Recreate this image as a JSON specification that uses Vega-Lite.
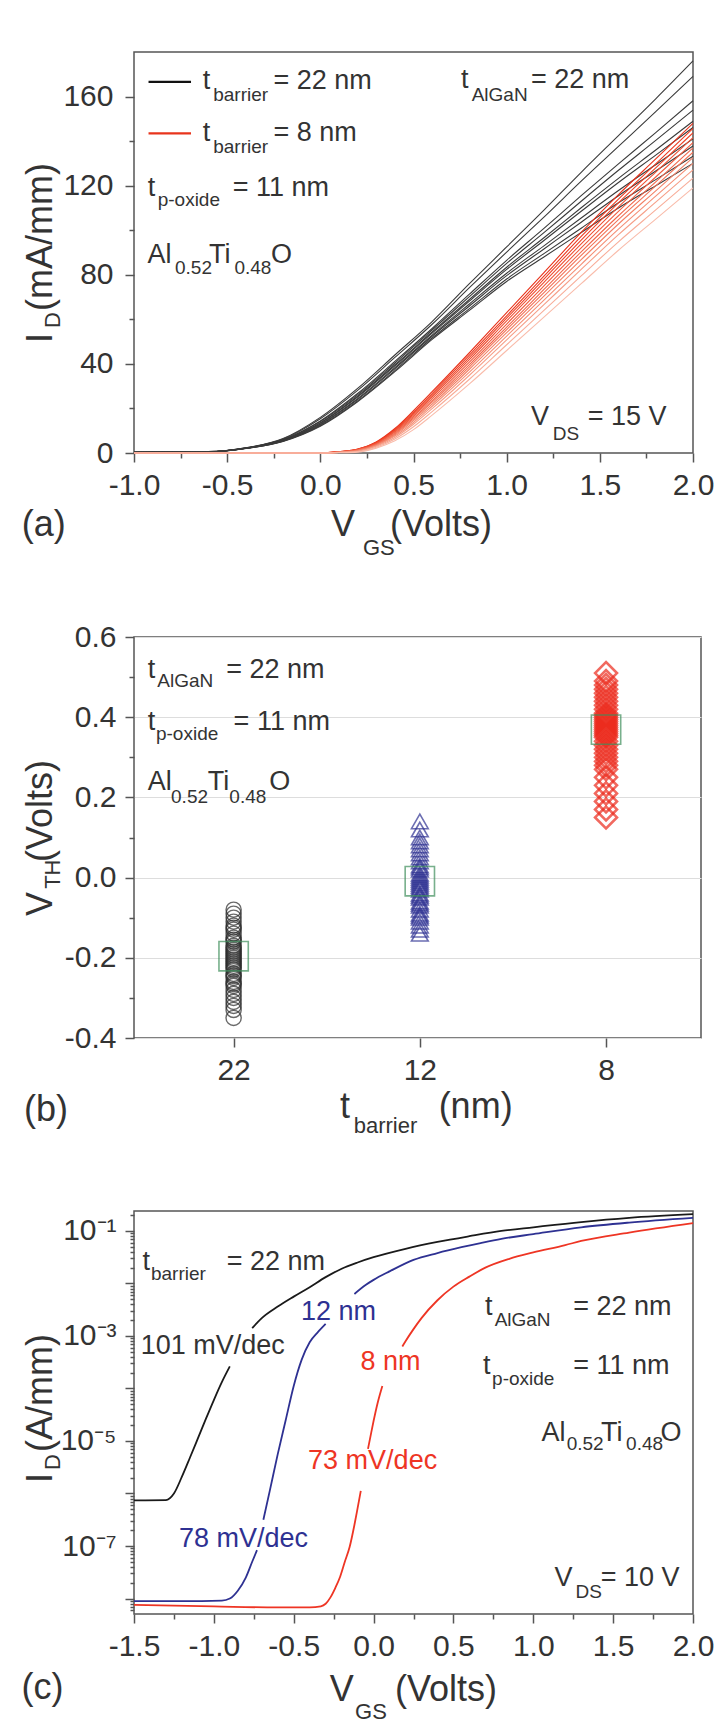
{
  "$schema": "https://vega.github.io/schema/vega-lite/v6.json",
  "padding": {"left": 20, "top": 51, "right": 5, "bottom": 5},
  "spacing": 61,
  "background": "white",
  "resolve": {"scale": {"color": "independent"}},
  "config": {
    "font": "Liberation Sans",
    "view": {"stroke": "#555555", "strokeWidth": 1.5},
    "axis": {"domain": false, "grid": false, "tickColor": "#555555", "tickWidth": 1.5, "labelFont": "Liberation Sans", "labelFontSize": 30, "labelColor": "#333333", "labelOverlap": false, "labelFlush": false},
    "text": {"font": "Liberation Sans", "color": "#333333"}
  },
  "datasets": {
    "blackA": [
      {"curve":"b1","vgs":-1,"id":0.3},{"curve":"b1","vgs":-0.6,"id":0.6},{"curve":"b1","vgs":-0.4,"id":2.3},{"curve":"b1","vgs":-0.2,"id":6.5},{"curve":"b1","vgs":0,"id":16},{"curve":"b1","vgs":0.2,"id":29},{"curve":"b1","vgs":0.4,"id":44},{"curve":"b1","vgs":0.6,"id":59},{"curve":"b1","vgs":0.8,"id":76},{"curve":"b1","vgs":1,"id":92.5},{"curve":"b1","vgs":1.2,"id":109},{"curve":"b1","vgs":1.4,"id":126},{"curve":"b1","vgs":1.6,"id":142.5},{"curve":"b1","vgs":1.8,"id":159},{"curve":"b1","vgs":2,"id":176},
      {"curve":"b2","vgs":-1,"id":0.3},{"curve":"b2","vgs":-0.6,"id":0.6},{"curve":"b2","vgs":-0.4,"id":2.3},{"curve":"b2","vgs":-0.2,"id":6.3},{"curve":"b2","vgs":0,"id":15.4},{"curve":"b2","vgs":0.2,"id":28.1},{"curve":"b2","vgs":0.4,"id":42.9},{"curve":"b2","vgs":0.6,"id":57.8},{"curve":"b2","vgs":0.8,"id":74.2},{"curve":"b2","vgs":1,"id":90.2},{"curve":"b2","vgs":1.2,"id":105.9},{"curve":"b2","vgs":1.4,"id":122},{"curve":"b2","vgs":1.6,"id":137.6},{"curve":"b2","vgs":1.8,"id":153.2},{"curve":"b2","vgs":2,"id":169.1},
      {"curve":"b3","vgs":-1,"id":0.3},{"curve":"b3","vgs":-0.6,"id":0.6},{"curve":"b3","vgs":-0.4,"id":2.2},{"curve":"b3","vgs":-0.2,"id":6},{"curve":"b3","vgs":0,"id":14.4},{"curve":"b3","vgs":0.2,"id":26.7},{"curve":"b3","vgs":0.4,"id":41.1},{"curve":"b3","vgs":0.6,"id":55.9},{"curve":"b3","vgs":0.8,"id":71.3},{"curve":"b3","vgs":1,"id":86.5},{"curve":"b3","vgs":1.2,"id":100.8},{"curve":"b3","vgs":1.4,"id":115.5},{"curve":"b3","vgs":1.6,"id":129.8},{"curve":"b3","vgs":1.8,"id":143.8},{"curve":"b3","vgs":2,"id":158.1},
      {"curve":"b4","vgs":-1,"id":0.3},{"curve":"b4","vgs":-0.6,"id":0.5},{"curve":"b4","vgs":-0.4,"id":2.2},{"curve":"b4","vgs":-0.2,"id":5.9},{"curve":"b4","vgs":0,"id":14.1},{"curve":"b4","vgs":0.2,"id":26.1},{"curve":"b4","vgs":0.4,"id":40.4},{"curve":"b4","vgs":0.6,"id":55.2},{"curve":"b4","vgs":0.8,"id":70.2},{"curve":"b4","vgs":1,"id":85.1},{"curve":"b4","vgs":1.2,"id":98.9},{"curve":"b4","vgs":1.4,"id":113},{"curve":"b4","vgs":1.6,"id":126.9},{"curve":"b4","vgs":1.8,"id":140.3},{"curve":"b4","vgs":2,"id":153.9},
      {"curve":"b5","vgs":-1,"id":0.3},{"curve":"b5","vgs":-0.6,"id":0.5},{"curve":"b5","vgs":-0.4,"id":2.1},{"curve":"b5","vgs":-0.2,"id":5.7},{"curve":"b5","vgs":0,"id":13.6},{"curve":"b5","vgs":0.2,"id":25.5},{"curve":"b5","vgs":0.4,"id":39.6},{"curve":"b5","vgs":0.6,"id":54.3},{"curve":"b5","vgs":0.8,"id":68.9},{"curve":"b5","vgs":1,"id":83.4},{"curve":"b5","vgs":1.2,"id":96.6},{"curve":"b5","vgs":1.4,"id":110.1},{"curve":"b5","vgs":1.6,"id":123.3},{"curve":"b5","vgs":1.8,"id":136},{"curve":"b5","vgs":2,"id":148.9},
      {"curve":"b6","vgs":-1,"id":0.3},{"curve":"b6","vgs":-0.6,"id":0.5},{"curve":"b6","vgs":-0.4,"id":2.1},{"curve":"b6","vgs":-0.2,"id":5.7},{"curve":"b6","vgs":0,"id":13.4},{"curve":"b6","vgs":0.2,"id":25.1},{"curve":"b6","vgs":0.4,"id":39.1},{"curve":"b6","vgs":0.6,"id":53.8},{"curve":"b6","vgs":0.8,"id":68.2},{"curve":"b6","vgs":1,"id":82.4},{"curve":"b6","vgs":1.2,"id":95.4},{"curve":"b6","vgs":1.4,"id":108.5},{"curve":"b6","vgs":1.6,"id":121.4},{"curve":"b6","vgs":1.8,"id":133.7},{"curve":"b6","vgs":2,"id":146.1},
      {"curve":"b7","vgs":-1,"id":0.3},{"curve":"b7","vgs":-0.6,"id":0.5},{"curve":"b7","vgs":-0.4,"id":2.1},{"curve":"b7","vgs":-0.2,"id":5.5},{"curve":"b7","vgs":0,"id":13},{"curve":"b7","vgs":0.2,"id":24.4},{"curve":"b7","vgs":0.4,"id":38.3},{"curve":"b7","vgs":0.6,"id":52.9},{"curve":"b7","vgs":0.8,"id":66.9},{"curve":"b7","vgs":1,"id":80.7},{"curve":"b7","vgs":1.2,"id":93},{"curve":"b7","vgs":1.4,"id":105.5},{"curve":"b7","vgs":1.6,"id":117.8},{"curve":"b7","vgs":1.8,"id":129.4},{"curve":"b7","vgs":2,"id":141},
      {"curve":"b8","vgs":-1,"id":0.3},{"curve":"b8","vgs":-0.6,"id":0.5},{"curve":"b8","vgs":-0.4,"id":2.1},{"curve":"b8","vgs":-0.2,"id":5.4},{"curve":"b8","vgs":0,"id":12.7},{"curve":"b8","vgs":0.2,"id":24},{"curve":"b8","vgs":0.4,"id":37.8},{"curve":"b8","vgs":0.6,"id":52.4},{"curve":"b8","vgs":0.8,"id":66},{"curve":"b8","vgs":1,"id":79.6},{"curve":"b8","vgs":1.2,"id":91.6},{"curve":"b8","vgs":1.4,"id":103.6},{"curve":"b8","vgs":1.6,"id":115.5},{"curve":"b8","vgs":1.8,"id":126.6},{"curve":"b8","vgs":2,"id":137.8},
      {"curve":"b9","vgs":-1,"id":0.3},{"curve":"b9","vgs":-0.6,"id":0.5},{"curve":"b9","vgs":-0.4,"id":2},{"curve":"b9","vgs":-0.2,"id":5.3},{"curve":"b9","vgs":0,"id":12.3},{"curve":"b9","vgs":0.2,"id":23.4},{"curve":"b9","vgs":0.4,"id":37},{"curve":"b9","vgs":0.6,"id":51.6},{"curve":"b9","vgs":0.8,"id":64.8},{"curve":"b9","vgs":1,"id":78.1},{"curve":"b9","vgs":1.2,"id":89.5},{"curve":"b9","vgs":1.4,"id":100.9},{"curve":"b9","vgs":1.6,"id":112.3},{"curve":"b9","vgs":1.8,"id":122.7},{"curve":"b9","vgs":2,"id":133.2},
      {"curve":"b10","vgs":-1,"id":0.3},{"curve":"b10","vgs":-0.6,"id":0.5},{"curve":"b10","vgs":-0.4,"id":2},{"curve":"b10","vgs":-0.2,"id":5.2},{"curve":"b10","vgs":0,"id":12},{"curve":"b10","vgs":0.2,"id":23},{"curve":"b10","vgs":0.4,"id":36.5},{"curve":"b10","vgs":0.6,"id":51},{"curve":"b10","vgs":0.8,"id":64},{"curve":"b10","vgs":1,"id":77},{"curve":"b10","vgs":1.2,"id":88},{"curve":"b10","vgs":1.4,"id":99},{"curve":"b10","vgs":1.6,"id":110},{"curve":"b10","vgs":1.8,"id":120},{"curve":"b10","vgs":2,"id":130}
    ],
    "redA": [
      {"curve":"r1","vgs":-1,"id":0},{"curve":"r1","vgs":0,"id":0},{"curve":"r1","vgs":0.1,"id":0.6},{"curve":"r1","vgs":0.2,"id":1.8},{"curve":"r1","vgs":0.3,"id":5},{"curve":"r1","vgs":0.4,"id":11},{"curve":"r1","vgs":0.5,"id":19},{"curve":"r1","vgs":0.6,"id":27.5},{"curve":"r1","vgs":0.8,"id":45},{"curve":"r1","vgs":1,"id":63},{"curve":"r1","vgs":1.2,"id":81},{"curve":"r1","vgs":1.4,"id":99},{"curve":"r1","vgs":1.6,"id":116},{"curve":"r1","vgs":1.8,"id":132},{"curve":"r1","vgs":2,"id":148},
      {"curve":"r2","vgs":-1,"id":0},{"curve":"r2","vgs":0,"id":0},{"curve":"r2","vgs":0.1,"id":0.6},{"curve":"r2","vgs":0.2,"id":1.7},{"curve":"r2","vgs":0.3,"id":4.8},{"curve":"r2","vgs":0.4,"id":10.6},{"curve":"r2","vgs":0.5,"id":18.3},{"curve":"r2","vgs":0.6,"id":26.7},{"curve":"r2","vgs":0.8,"id":43.9},{"curve":"r2","vgs":1,"id":61.6},{"curve":"r2","vgs":1.2,"id":79.4},{"curve":"r2","vgs":1.4,"id":97.2},{"curve":"r2","vgs":1.6,"id":114},{"curve":"r2","vgs":1.8,"id":129.8},{"curve":"r2","vgs":2,"id":145.7},
      {"curve":"r3","vgs":-1,"id":0},{"curve":"r3","vgs":0,"id":0},{"curve":"r3","vgs":0.1,"id":0.5},{"curve":"r3","vgs":0.2,"id":1.6},{"curve":"r3","vgs":0.3,"id":4.6},{"curve":"r3","vgs":0.4,"id":10.2},{"curve":"r3","vgs":0.5,"id":17.7},{"curve":"r3","vgs":0.6,"id":25.9},{"curve":"r3","vgs":0.8,"id":42.9},{"curve":"r3","vgs":1,"id":60.5},{"curve":"r3","vgs":1.2,"id":78},{"curve":"r3","vgs":1.4,"id":95.6},{"curve":"r3","vgs":1.6,"id":112.3},{"curve":"r3","vgs":1.8,"id":128},{"curve":"r3","vgs":2,"id":143.7},
      {"curve":"r4","vgs":-1,"id":0},{"curve":"r4","vgs":0,"id":0},{"curve":"r4","vgs":0.1,"id":0.5},{"curve":"r4","vgs":0.2,"id":1.5},{"curve":"r4","vgs":0.3,"id":4.4},{"curve":"r4","vgs":0.4,"id":9.8},{"curve":"r4","vgs":0.5,"id":17.1},{"curve":"r4","vgs":0.6,"id":25.2},{"curve":"r4","vgs":0.8,"id":41.9},{"curve":"r4","vgs":1,"id":59.3},{"curve":"r4","vgs":1.2,"id":76.6},{"curve":"r4","vgs":1.4,"id":93.9},{"curve":"r4","vgs":1.6,"id":110.5},{"curve":"r4","vgs":1.8,"id":126.1},{"curve":"r4","vgs":2,"id":141.6},
      {"curve":"r5","vgs":-1,"id":0},{"curve":"r5","vgs":0,"id":0},{"curve":"r5","vgs":0.1,"id":0.5},{"curve":"r5","vgs":0.2,"id":1.4},{"curve":"r5","vgs":0.3,"id":4.2},{"curve":"r5","vgs":0.4,"id":9.4},{"curve":"r5","vgs":0.5,"id":16.5},{"curve":"r5","vgs":0.6,"id":24.4},{"curve":"r5","vgs":0.8,"id":40.8},{"curve":"r5","vgs":1,"id":57.9},{"curve":"r5","vgs":1.2,"id":75},{"curve":"r5","vgs":1.4,"id":92.1},{"curve":"r5","vgs":1.6,"id":108.5},{"curve":"r5","vgs":1.8,"id":123.9},{"curve":"r5","vgs":2,"id":139.3},
      {"curve":"r6","vgs":-1,"id":0},{"curve":"r6","vgs":0,"id":0},{"curve":"r6","vgs":0.1,"id":0.4},{"curve":"r6","vgs":0.2,"id":1.3},{"curve":"r6","vgs":0.3,"id":3.9},{"curve":"r6","vgs":0.4,"id":8.9},{"curve":"r6","vgs":0.5,"id":15.8},{"curve":"r6","vgs":0.6,"id":23.5},{"curve":"r6","vgs":0.8,"id":39.7},{"curve":"r6","vgs":1,"id":56.5},{"curve":"r6","vgs":1.2,"id":73.4},{"curve":"r6","vgs":1.4,"id":90.3},{"curve":"r6","vgs":1.6,"id":106.5},{"curve":"r6","vgs":1.8,"id":121.7},{"curve":"r6","vgs":2,"id":137},
      {"curve":"r7","vgs":-1,"id":0},{"curve":"r7","vgs":0,"id":0},{"curve":"r7","vgs":0.1,"id":0.4},{"curve":"r7","vgs":0.2,"id":1.2},{"curve":"r7","vgs":0.3,"id":3.7},{"curve":"r7","vgs":0.4,"id":8.5},{"curve":"r7","vgs":0.5,"id":15.2},{"curve":"r7","vgs":0.6,"id":22.8},{"curve":"r7","vgs":0.8,"id":38.7},{"curve":"r7","vgs":1,"id":55.4},{"curve":"r7","vgs":1.2,"id":72},{"curve":"r7","vgs":1.4,"id":88.7},{"curve":"r7","vgs":1.6,"id":104.8},{"curve":"r7","vgs":1.8,"id":119.9},{"curve":"r7","vgs":2,"id":135},
      {"curve":"r8","vgs":-1,"id":0},{"curve":"r8","vgs":0,"id":0},{"curve":"r8","vgs":0.1,"id":0.3},{"curve":"r8","vgs":0.2,"id":1.1},{"curve":"r8","vgs":0.3,"id":3.5},{"curve":"r8","vgs":0.4,"id":8.1},{"curve":"r8","vgs":0.5,"id":14.5},{"curve":"r8","vgs":0.6,"id":21.9},{"curve":"r8","vgs":0.8,"id":37.6},{"curve":"r8","vgs":1,"id":54},{"curve":"r8","vgs":1.2,"id":70.4},{"curve":"r8","vgs":1.4,"id":86.8},{"curve":"r8","vgs":1.6,"id":102.8},{"curve":"r8","vgs":1.8,"id":117.7},{"curve":"r8","vgs":2,"id":132.6},
      {"curve":"r9","vgs":-1,"id":0},{"curve":"r9","vgs":0,"id":0},{"curve":"r9","vgs":0.1,"id":0.3},{"curve":"r9","vgs":0.2,"id":0.9},{"curve":"r9","vgs":0.3,"id":3.3},{"curve":"r9","vgs":0.4,"id":7.6},{"curve":"r9","vgs":0.5,"id":13.7},{"curve":"r9","vgs":0.6,"id":21},{"curve":"r9","vgs":0.8,"id":36.3},{"curve":"r9","vgs":1,"id":52.5},{"curve":"r9","vgs":1.2,"id":68.6},{"curve":"r9","vgs":1.4,"id":84.7},{"curve":"r9","vgs":1.6,"id":100.5},{"curve":"r9","vgs":1.8,"id":115.3},{"curve":"r9","vgs":2,"id":130},
      {"curve":"r10","vgs":-1,"id":0},{"curve":"r10","vgs":0,"id":0},{"curve":"r10","vgs":0.1,"id":0.2},{"curve":"r10","vgs":0.2,"id":0.8},{"curve":"r10","vgs":0.3,"id":3},{"curve":"r10","vgs":0.4,"id":7},{"curve":"r10","vgs":0.5,"id":12.9},{"curve":"r10","vgs":0.6,"id":19.9},{"curve":"r10","vgs":0.8,"id":34.9},{"curve":"r10","vgs":1,"id":50.8},{"curve":"r10","vgs":1.2,"id":66.6},{"curve":"r10","vgs":1.4,"id":82.4},{"curve":"r10","vgs":1.6,"id":98},{"curve":"r10","vgs":1.8,"id":112.6},{"curve":"r10","vgs":2,"id":127.1},
      {"curve":"r11","vgs":-1,"id":0},{"curve":"r11","vgs":0,"id":0},{"curve":"r11","vgs":0.1,"id":0.2},{"curve":"r11","vgs":0.2,"id":0.6},{"curve":"r11","vgs":0.3,"id":2.6},{"curve":"r11","vgs":0.4,"id":6.3},{"curve":"r11","vgs":0.5,"id":11.8},{"curve":"r11","vgs":0.6,"id":18.6},{"curve":"r11","vgs":0.8,"id":33.1},{"curve":"r11","vgs":1,"id":48.6},{"curve":"r11","vgs":1.2,"id":64},{"curve":"r11","vgs":1.4,"id":79.5},{"curve":"r11","vgs":1.6,"id":94.8},{"curve":"r11","vgs":1.8,"id":109.1},{"curve":"r11","vgs":2,"id":123.4},
      {"curve":"r12","vgs":-1,"id":0},{"curve":"r12","vgs":0,"id":0},{"curve":"r12","vgs":0.1,"id":0.1},{"curve":"r12","vgs":0.2,"id":0.4},{"curve":"r12","vgs":0.3,"id":2.2},{"curve":"r12","vgs":0.4,"id":5.5},{"curve":"r12","vgs":0.5,"id":10.5},{"curve":"r12","vgs":0.6,"id":17},{"curve":"r12","vgs":0.8,"id":31},{"curve":"r12","vgs":1,"id":46},{"curve":"r12","vgs":1.2,"id":61},{"curve":"r12","vgs":1.4,"id":76},{"curve":"r12","vgs":1.6,"id":91},{"curve":"r12","vgs":1.8,"id":105},{"curve":"r12","vgs":2,"id":119}
    ],
    "legendA": [
      {"series":"22 nm","x":-0.922,"x2":-0.694,"y":166.6},
      {"series":"8 nm","x":-0.922,"x2":-0.694,"y":143.5}
    ],
    "textA": [
      {"role":"main","x":-0.631,"y":167.0,"text":"t"},
      {"role":"sub","x":-0.575,"y":160.7,"text":"barrier"},
      {"role":"main","x":-0.252,"y":167.0,"text":"= 22 nm"},
      {"role":"main","x":-0.631,"y":143.6,"text":"t"},
      {"role":"sub","x":-0.575,"y":137.5,"text":"barrier"},
      {"role":"main","x":-0.252,"y":143.6,"text":"= 8 nm"},
      {"role":"main","x":-0.926,"y":118.9,"text":"t"},
      {"role":"sub","x":-0.873,"y":113.6,"text":"p-oxide"},
      {"role":"main","x":-0.47,"y":118.9,"text":"= 11 nm"},
      {"role":"main","x":-0.928,"y":88.9,"text":"Al"},
      {"role":"sub","x":-0.78,"y":83.0,"text":"0.52"},
      {"role":"main","x":-0.597,"y":88.9,"text":"Ti"},
      {"role":"sub","x":-0.461,"y":83.0,"text":"0.48"},
      {"role":"main","x":-0.265,"y":88.9,"text":"O"},
      {"role":"main","x":0.755,"y":167.3,"text":"t"},
      {"role":"sub","x":0.812,"y":160.9,"text":"AlGaN"},
      {"role":"main","x":1.13,"y":167.3,"text":"= 22 nm"},
      {"role":"main","x":1.131,"y":16.2,"text":"V"},
      {"role":"sub","x":1.247,"y":8.5,"text":"DS"},
      {"role":"main","x":1.435,"y":16.2,"text":"= 15 V"},
      {"role":"title","x":0.057,"y":-32.3,"text":"V"},
      {"role":"titleSub","x":0.229,"y":-42.6,"text":"GS"},
      {"role":"title","x":0.374,"y":-32.3,"text":"(Volts)"},
      {"role":"title","x":-1.603,"y":-32.3,"text":"(a)"},
      {"role":"vtitle","x":-1.499,"y":49.4,"text":"I"},
      {"role":"vtitleSub","x":-1.435,"y":56.1,"text":"D"},
      {"role":"vtitle","x":-1.499,"y":63.7,"text":"(mA/mm)"}
    ],
    "vthB": [
      {"barrier":"22","pos":1,"vth":-0.35},{"barrier":"22","pos":1,"vth":-0.33},{"barrier":"22","pos":1,"vth":-0.32},{"barrier":"22","pos":1,"vth":-0.31},{"barrier":"22","pos":1,"vth":-0.3},{"barrier":"22","pos":1,"vth":-0.29},{"barrier":"22","pos":1,"vth":-0.28},{"barrier":"22","pos":1,"vth":-0.27},{"barrier":"22","pos":1,"vth":-0.265},{"barrier":"22","pos":1,"vth":-0.26},{"barrier":"22","pos":1,"vth":-0.25},{"barrier":"22","pos":1,"vth":-0.245},{"barrier":"22","pos":1,"vth":-0.24},{"barrier":"22","pos":1,"vth":-0.23},{"barrier":"22","pos":1,"vth":-0.225},{"barrier":"22","pos":1,"vth":-0.22},{"barrier":"22","pos":1,"vth":-0.215},{"barrier":"22","pos":1,"vth":-0.21},{"barrier":"22","pos":1,"vth":-0.205},{"barrier":"22","pos":1,"vth":-0.2},{"barrier":"22","pos":1,"vth":-0.195},{"barrier":"22","pos":1,"vth":-0.19},{"barrier":"22","pos":1,"vth":-0.185},{"barrier":"22","pos":1,"vth":-0.18},{"barrier":"22","pos":1,"vth":-0.175},{"barrier":"22","pos":1,"vth":-0.17},{"barrier":"22","pos":1,"vth":-0.16},{"barrier":"22","pos":1,"vth":-0.155},{"barrier":"22","pos":1,"vth":-0.15},{"barrier":"22","pos":1,"vth":-0.14},{"barrier":"22","pos":1,"vth":-0.13},{"barrier":"22","pos":1,"vth":-0.125},{"barrier":"22","pos":1,"vth":-0.12},{"barrier":"22","pos":1,"vth":-0.11},{"barrier":"22","pos":1,"vth":-0.1},{"barrier":"22","pos":1,"vth":-0.09},{"barrier":"22","pos":1,"vth":-0.08},
      {"barrier":"12","pos":2,"vth":-0.14},{"barrier":"12","pos":2,"vth":-0.13},{"barrier":"12","pos":2,"vth":-0.12},{"barrier":"12","pos":2,"vth":-0.11},{"barrier":"12","pos":2,"vth":-0.1},{"barrier":"12","pos":2,"vth":-0.095},{"barrier":"12","pos":2,"vth":-0.09},{"barrier":"12","pos":2,"vth":-0.08},{"barrier":"12","pos":2,"vth":-0.07},{"barrier":"12","pos":2,"vth":-0.065},{"barrier":"12","pos":2,"vth":-0.06},{"barrier":"12","pos":2,"vth":-0.05},{"barrier":"12","pos":2,"vth":-0.045},{"barrier":"12","pos":2,"vth":-0.04},{"barrier":"12","pos":2,"vth":-0.03},{"barrier":"12","pos":2,"vth":-0.025},{"barrier":"12","pos":2,"vth":-0.02},{"barrier":"12","pos":2,"vth":-0.015},{"barrier":"12","pos":2,"vth":-0.01},{"barrier":"12","pos":2,"vth":-0.005},{"barrier":"12","pos":2,"vth":0},{"barrier":"12","pos":2,"vth":0.005},{"barrier":"12","pos":2,"vth":0.01},{"barrier":"12","pos":2,"vth":0.02},{"barrier":"12","pos":2,"vth":0.025},{"barrier":"12","pos":2,"vth":0.03},{"barrier":"12","pos":2,"vth":0.04},{"barrier":"12","pos":2,"vth":0.05},{"barrier":"12","pos":2,"vth":0.06},{"barrier":"12","pos":2,"vth":0.07},{"barrier":"12","pos":2,"vth":0.08},{"barrier":"12","pos":2,"vth":0.09},{"barrier":"12","pos":2,"vth":0.1},{"barrier":"12","pos":2,"vth":0.12},{"barrier":"12","pos":2,"vth":0.14},
      {"barrier":"8","pos":3,"vth":0.15},{"barrier":"8","pos":3,"vth":0.17},{"barrier":"8","pos":3,"vth":0.19},{"barrier":"8","pos":3,"vth":0.21},{"barrier":"8","pos":3,"vth":0.23},{"barrier":"8","pos":3,"vth":0.25},{"barrier":"8","pos":3,"vth":0.27},{"barrier":"8","pos":3,"vth":0.28},{"barrier":"8","pos":3,"vth":0.29},{"barrier":"8","pos":3,"vth":0.3},{"barrier":"8","pos":3,"vth":0.31},{"barrier":"8","pos":3,"vth":0.32},{"barrier":"8","pos":3,"vth":0.33},{"barrier":"8","pos":3,"vth":0.34},{"barrier":"8","pos":3,"vth":0.35},{"barrier":"8","pos":3,"vth":0.355},{"barrier":"8","pos":3,"vth":0.36},{"barrier":"8","pos":3,"vth":0.365},{"barrier":"8","pos":3,"vth":0.37},{"barrier":"8","pos":3,"vth":0.375},{"barrier":"8","pos":3,"vth":0.38},{"barrier":"8","pos":3,"vth":0.385},{"barrier":"8","pos":3,"vth":0.39},{"barrier":"8","pos":3,"vth":0.395},{"barrier":"8","pos":3,"vth":0.4},{"barrier":"8","pos":3,"vth":0.405},{"barrier":"8","pos":3,"vth":0.41},{"barrier":"8","pos":3,"vth":0.42},{"barrier":"8","pos":3,"vth":0.43},{"barrier":"8","pos":3,"vth":0.44},{"barrier":"8","pos":3,"vth":0.45},{"barrier":"8","pos":3,"vth":0.46},{"barrier":"8","pos":3,"vth":0.47},{"barrier":"8","pos":3,"vth":0.48},{"barrier":"8","pos":3,"vth":0.49},{"barrier":"8","pos":3,"vth":0.51}
    ],
    "meanB": [
      {"barrier":"22","pos":1,"vth":-0.196},
      {"barrier":"12","pos":2,"vth":-0.009},
      {"barrier":"8","pos":3,"vth":0.369}
    ],
    "textB": [
      {"role":"main","x":0.539,"y":0.518,"text":"t"},
      {"role":"sub","x":0.59,"y":0.491,"text":"AlGaN"},
      {"role":"main","x":0.96,"y":0.518,"text":"= 22 nm"},
      {"role":"main","x":0.539,"y":0.389,"text":"t"},
      {"role":"sub","x":0.583,"y":0.357,"text":"p-oxide"},
      {"role":"main","x":1.0,"y":0.389,"text":"= 11 nm"},
      {"role":"main","x":0.539,"y":0.238,"text":"Al"},
      {"role":"sub","x":0.664,"y":0.201,"text":"0.52"},
      {"role":"main","x":0.861,"y":0.238,"text":"Ti"},
      {"role":"sub","x":0.977,"y":0.201,"text":"0.48"},
      {"role":"main","x":1.192,"y":0.238,"text":"O"},
      {"role":"title","x":1.571,"y":-0.573,"text":"t"},
      {"role":"titleSub","x":1.645,"y":-0.619,"text":"barrier"},
      {"role":"title","x":2.101,"y":-0.573,"text":"(nm)"},
      {"role":"title","x":-0.126,"y":-0.58,"text":"(b)"},
      {"role":"vtitle","x":-0.034,"y":-0.096,"text":"V"},
      {"role":"vtitleSub","x":0.03,"y":-0.028,"text":"TH"},
      {"role":"vtitle","x":-0.034,"y":0.039,"text":"(Volts)"}
    ],
    "curvesC": [
      {"series":"22 nm","segment":"22a","vgs":-1.5,"id":7.41e-7},{"series":"22 nm","segment":"22a","vgs":-1.3,"id":7.5e-7},{"series":"22 nm","segment":"22a","vgs":-1.25,"id":1e-6},{"series":"22 nm","segment":"22a","vgs":-1.2,"id":2.09e-6},{"series":"22 nm","segment":"22a","vgs":-1.15,"id":4.79e-6},{"series":"22 nm","segment":"22a","vgs":-1.1,"id":1.12e-5},{"series":"22 nm","segment":"22a","vgs":-1.05,"id":2.63e-5},{"series":"22 nm","segment":"22a","vgs":-1.0,"id":6.03e-5},{"series":"22 nm","segment":"22a","vgs":-0.95,"id":1.32e-4},{"series":"22 nm","segment":"22a","vgs":-0.9,"id":2.63e-4},
      {"series":"22 nm","segment":"22b","vgs":-0.76,"id":1.41e-3},{"series":"22 nm","segment":"22b","vgs":-0.7,"id":2.19e-3},{"series":"22 nm","segment":"22b","vgs":-0.6,"id":3.63e-3},{"series":"22 nm","segment":"22b","vgs":-0.5,"id":5.62e-3},{"series":"22 nm","segment":"22b","vgs":-0.4,"id":8.51e-3},{"series":"22 nm","segment":"22b","vgs":-0.3,"id":1.32e-2},{"series":"22 nm","segment":"22b","vgs":-0.2,"id":1.91e-2},{"series":"22 nm","segment":"22b","vgs":-0.1,"id":2.51e-2},{"series":"22 nm","segment":"22b","vgs":0,"id":3.16e-2},{"series":"22 nm","segment":"22b","vgs":0.2,"id":4.57e-2},{"series":"22 nm","segment":"22b","vgs":0.4,"id":6.17e-2},{"series":"22 nm","segment":"22b","vgs":0.6,"id":7.94e-2},{"series":"22 nm","segment":"22b","vgs":0.8,"id":0.1},{"series":"22 nm","segment":"22b","vgs":1.0,"id":0.1175},{"series":"22 nm","segment":"22b","vgs":1.3,"id":0.148},{"series":"22 nm","segment":"22b","vgs":1.6,"id":0.178},{"series":"22 nm","segment":"22b","vgs":2.0,"id":0.209},
      {"series":"12 nm","segment":"12a","vgs":-1.5,"id":8.91e-9},{"series":"12 nm","segment":"12a","vgs":-1.2,"id":8.91e-9},{"series":"12 nm","segment":"12a","vgs":-0.95,"id":9.12e-9},{"series":"12 nm","segment":"12a","vgs":-0.9,"id":1e-8},{"series":"12 nm","segment":"12a","vgs":-0.85,"id":1.41e-8},{"series":"12 nm","segment":"12a","vgs":-0.8,"id":2.51e-8},{"series":"12 nm","segment":"12a","vgs":-0.76,"id":5.01e-8},{"series":"12 nm","segment":"12a","vgs":-0.73,"id":8.32e-8},
      {"series":"12 nm","segment":"12b","vgs":-0.69,"id":3.16e-7},{"series":"12 nm","segment":"12b","vgs":-0.65,"id":1.12e-6},{"series":"12 nm","segment":"12b","vgs":-0.6,"id":5.62e-6},{"series":"12 nm","segment":"12b","vgs":-0.55,"id":2.51e-5},{"series":"12 nm","segment":"12b","vgs":-0.5,"id":1.12e-4},{"series":"12 nm","segment":"12b","vgs":-0.45,"id":3.55e-4},{"series":"12 nm","segment":"12b","vgs":-0.4,"id":7.59e-4},{"series":"12 nm","segment":"12b","vgs":-0.35,"id":1.17e-3},{"series":"12 nm","segment":"12b","vgs":-0.3,"id":1.7e-3},
      {"series":"12 nm","segment":"12c","vgs":-0.12,"id":6.31e-3},{"series":"12 nm","segment":"12c","vgs":-0.05,"id":9.33e-3},{"series":"12 nm","segment":"12c","vgs":0,"id":1.17e-2},{"series":"12 nm","segment":"12c","vgs":0.1,"id":1.7e-2},{"series":"12 nm","segment":"12c","vgs":0.25,"id":2.82e-2},{"series":"12 nm","segment":"12c","vgs":0.4,"id":3.8e-2},{"series":"12 nm","segment":"12c","vgs":0.55,"id":4.9e-2},{"series":"12 nm","segment":"12c","vgs":0.67,"id":5.89e-2},{"series":"12 nm","segment":"12c","vgs":0.8,"id":7.08e-2},{"series":"12 nm","segment":"12c","vgs":1.0,"id":8.71e-2},{"series":"12 nm","segment":"12c","vgs":1.3,"id":0.1175},{"series":"12 nm","segment":"12c","vgs":1.6,"id":0.1445},{"series":"12 nm","segment":"12c","vgs":2.0,"id":0.178},
      {"series":"8 nm","segment":"8a","vgs":-1.5,"id":7.59e-9},{"series":"8 nm","segment":"8a","vgs":-1.0,"id":7.08e-9},{"series":"8 nm","segment":"8a","vgs":-0.6,"id":6.76e-9},{"series":"8 nm","segment":"8a","vgs":-0.4,"id":6.76e-9},{"series":"8 nm","segment":"8a","vgs":-0.33,"id":7.08e-9},{"series":"8 nm","segment":"8a","vgs":-0.3,"id":7.94e-9},{"series":"8 nm","segment":"8a","vgs":-0.27,"id":1.05e-8},{"series":"8 nm","segment":"8a","vgs":-0.24,"id":1.58e-8},{"series":"8 nm","segment":"8a","vgs":-0.21,"id":2.57e-8},{"series":"8 nm","segment":"8a","vgs":-0.18,"id":5.01e-8},{"series":"8 nm","segment":"8a","vgs":-0.15,"id":9.55e-8},{"series":"8 nm","segment":"8a","vgs":-0.12,"id":2.51e-7},{"series":"8 nm","segment":"8a","vgs":-0.1,"id":5.25e-7},{"series":"8 nm","segment":"8a","vgs":-0.08,"id":1.12e-6},
      {"series":"8 nm","segment":"8b","vgs":-0.035,"id":7.08e-6},{"series":"8 nm","segment":"8b","vgs":-0.02,"id":1.2e-5},{"series":"8 nm","segment":"8b","vgs":0,"id":2.4e-5},{"series":"8 nm","segment":"8b","vgs":0.025,"id":5.25e-5},{"series":"8 nm","segment":"8b","vgs":0.055,"id":1.12e-4},
      {"series":"8 nm","segment":"8c","vgs":0.18,"id":6.31e-4},{"series":"8 nm","segment":"8c","vgs":0.2,"id":7.94e-4},{"series":"8 nm","segment":"8c","vgs":0.25,"id":1.35e-3},{"series":"8 nm","segment":"8c","vgs":0.3,"id":2.19e-3},{"series":"8 nm","segment":"8c","vgs":0.4,"id":4.79e-3},{"series":"8 nm","segment":"8c","vgs":0.5,"id":8.71e-3},{"series":"8 nm","segment":"8c","vgs":0.6,"id":1.35e-2},{"series":"8 nm","segment":"8c","vgs":0.7,"id":2.0e-2},{"series":"8 nm","segment":"8c","vgs":0.85,"id":2.95e-2},{"series":"8 nm","segment":"8c","vgs":1.0,"id":3.89e-2},{"series":"8 nm","segment":"8c","vgs":1.2,"id":5.37e-2},{"series":"8 nm","segment":"8c","vgs":1.3,"id":6.46e-2},{"series":"8 nm","segment":"8c","vgs":1.6,"id":9.33e-2},{"series":"8 nm","segment":"8c","vgs":2.0,"id":0.1413}
    ],
    "textC": [
      {"role":"main","series":"info","x":-1.446,"y":2.57e-2,"text":"t"},
      {"role":"sub","series":"info","x":-1.394,"y":1.51e-2,"text":"barrier"},
      {"role":"main","series":"info","x":-0.92,"y":2.57e-2,"text":"= 22 nm"},
      {"role":"main","series":"info","x":-1.458,"y":6.31e-4,"text":"101 mV/dec"},
      {"role":"main","series":"12 nm","x":-0.454,"y":2.86e-3,"text":"12 nm"},
      {"role":"main","series":"8 nm","x":-0.082,"y":3.2e-4,"text":"8 nm"},
      {"role":"main","series":"8 nm","x":-0.41,"y":4.16e-6,"text":"73 mV/dec"},
      {"role":"main","series":"12 nm","x":-1.218,"y":1.36e-7,"text":"78 mV/dec"},
      {"role":"main","series":"info","x":0.698,"y":3.49e-3,"text":"t"},
      {"role":"sub","series":"info","x":0.758,"y":2.05e-3,"text":"AlGaN"},
      {"role":"main","series":"info","x":1.25,"y":3.49e-3,"text":"= 22 nm"},
      {"role":"main","series":"info","x":0.685,"y":2.7e-4,"text":"t"},
      {"role":"sub","series":"info","x":0.742,"y":1.52e-4,"text":"p-oxide"},
      {"role":"main","series":"info","x":1.25,"y":2.7e-4,"text":"= 11 nm"},
      {"role":"main","series":"info","x":1.051,"y":1.42e-5,"text":"Al"},
      {"role":"sub","series":"info","x":1.209,"y":8.77e-6,"text":"0.52"},
      {"role":"main","series":"info","x":1.424,"y":1.42e-5,"text":"Ti"},
      {"role":"sub","series":"info","x":1.581,"y":8.77e-6,"text":"0.48"},
      {"role":"main","series":"info","x":1.797,"y":1.42e-5,"text":"O"},
      {"role":"main","series":"info","x":1.133,"y":2.45e-8,"text":"V"},
      {"role":"sub","series":"info","x":1.265,"y":1.33e-8,"text":"DS"},
      {"role":"main","series":"info","x":1.422,"y":2.45e-8,"text":"= 10 V"},
      {"role":"title","series":"info","x":-0.275,"y":1.81e-10,"text":"V"},
      {"role":"titleSub","series":"info","x":-0.116,"y":6.89e-11,"text":"GS"},
      {"role":"title","series":"info","x":0.134,"y":1.81e-10,"text":"(Volts)"},
      {"role":"title","series":"info","x":-2.204,"y":1.97e-10,"text":"(c)"},
      {"role":"vtitle","series":"info","x":-2.082,"y":1.585e-6,"text":"I"},
      {"role":"vtitleSub","series":"info","x":-2.007,"y":2.81e-6,"text":"D"},
      {"role":"vtitle","series":"info","x":-2.082,"y":6.17e-6,"text":"(A/mm)"}
    ]
  },
  "vconcat": [
    {
      "width": 559,
      "height": 401,
      "encoding": {
        "x": {"type": "quantitative", "title": null, "scale": {"domain": [-1, 2], "nice": false, "zero": false},
          "axis": {"values": [-1, -0.75, -0.5, -0.25, 0, 0.25, 0.5, 0.75, 1, 1.25, 1.5, 1.75, 2], "labelExpr": "datum.value % 0.5 === 0 ? replace(format(datum.value, '.1f'), '\u2212', '-') : ''", "tickSize": {"condition": {"test": "datum.value % 0.5 === 0", "value": 9}, "value": 5}, "labelPadding": 8}},
        "y": {"type": "quantitative", "title": null, "scale": {"domain": [0, 180], "nice": false, "zero": false},
          "axis": {"values": [0, 20, 40, 60, 80, 100, 120, 140, 160], "labelExpr": "datum.value % 40 === 0 ? datum.label : ''", "tickSize": {"condition": {"test": "datum.value % 40 === 0", "value": 9}, "value": 5}, "labelPadding": 12}}
      },
      "layer": [
        {
          "data": {"name": "blackA"},
          "mark": {"type": "line", "interpolate": "monotone", "color": "#3a3a3a", "strokeWidth": 1.1},
          "encoding": {"x": {"field": "vgs"}, "y": {"field": "id"}, "detail": {"field": "curve", "type": "nominal"}}
        },
        {
          "data": {"name": "redA"},
          "mark": {"type": "line", "interpolate": "monotone", "strokeWidth": 1.1},
          "encoding": {
            "x": {"field": "vgs"},
            "y": {"field": "id"},
            "color": {"field": "curve", "type": "nominal", "legend": null,
              "scale": {"domain": ["r1","r2","r3","r4","r5","r6","r7","r8","r9","r10","r11","r12"], "range": ["#e9321a","#ec3a20","#ee4428","#ef4f33","#f05a3e","#f1664b","#f27358","#f38166","#f58f76","#f69e87","#f8ad99","#f9bcab"]}}
          }
        },
        {
          "data": {"name": "legendA"},
          "transform": [{"filter": "datum.series === '22 nm'"}],
          "mark": {"type": "rule", "color": "#111111", "strokeWidth": 2.2},
          "encoding": {"x": {"field": "x"}, "x2": {"field": "x2"}, "y": {"field": "y"}}
        },
        {
          "data": {"name": "legendA"},
          "transform": [{"filter": "datum.series === '8 nm'"}],
          "mark": {"type": "rule", "color": "#e8341c", "strokeWidth": 2.2},
          "encoding": {"x": {"field": "x"}, "x2": {"field": "x2"}, "y": {"field": "y"}}
        },
        {
          "data": {"name": "textA"},
          "transform": [{"filter": "datum.role === 'main'"}],
          "mark": {"type": "text", "align": "left", "baseline": "middle", "fontSize": 27},
          "encoding": {"x": {"field": "x"}, "y": {"field": "y"}, "text": {"field": "text", "type": "nominal"}}
        },
        {
          "data": {"name": "textA"},
          "transform": [{"filter": "datum.role === 'sub'"}],
          "mark": {"type": "text", "align": "left", "baseline": "middle", "fontSize": 19},
          "encoding": {"x": {"field": "x"}, "y": {"field": "y"}, "text": {"field": "text", "type": "nominal"}}
        },
        {
          "data": {"name": "textA"},
          "transform": [{"filter": "datum.role === 'title'"}],
          "mark": {"type": "text", "align": "left", "baseline": "middle", "fontSize": 36},
          "encoding": {"x": {"field": "x"}, "y": {"field": "y"}, "text": {"field": "text", "type": "nominal"}}
        },
        {
          "data": {"name": "textA"},
          "transform": [{"filter": "datum.role === 'titleSub'"}],
          "mark": {"type": "text", "align": "left", "baseline": "middle", "fontSize": 22},
          "encoding": {"x": {"field": "x"}, "y": {"field": "y"}, "text": {"field": "text", "type": "nominal"}}
        },
        {
          "data": {"name": "textA"},
          "transform": [{"filter": "datum.role === 'vtitle'"}],
          "mark": {"type": "text", "align": "left", "baseline": "middle", "fontSize": 36, "angle": 270},
          "encoding": {"x": {"field": "x"}, "y": {"field": "y"}, "text": {"field": "text", "type": "nominal"}}
        },
        {
          "data": {"name": "textA"},
          "transform": [{"filter": "datum.role === 'vtitleSub'"}],
          "mark": {"type": "text", "align": "left", "baseline": "middle", "fontSize": 22, "angle": 270},
          "encoding": {"x": {"field": "x"}, "y": {"field": "y"}, "text": {"field": "text", "type": "nominal"}}
        }
      ]
    },
    {
      "width": 567,
      "height": 401,
      "encoding": {
        "x": {"type": "quantitative", "title": null, "scale": {"domain": [0.465, 3.51], "nice": false, "zero": false},
          "axis": {"values": [1, 2, 3], "labelExpr": "datum.value === 1 ? '22' : datum.value === 2 ? '12' : '8'", "tickSize": 9, "labelPadding": 8}},
        "y": {"type": "quantitative", "title": null, "scale": {"domain": [-0.4, 0.6], "nice": false, "zero": false},
          "axis": {"values": [-0.4, -0.3, -0.2, -0.1, 0, 0.1, 0.2, 0.3, 0.4, 0.5, 0.6], "labelExpr": "abs(round(datum.value * 10)) % 2 === 0 ? replace(format(datum.value, '.1f'), '\u2212', '-') : ''", "tickSize": {"condition": {"test": "abs(round(datum.value * 10)) % 2 === 0", "value": 9}, "value": 5}, "labelPadding": 9, "grid": true, "gridColor": "#dddddd", "gridWidth": 1, "gridOpacity": {"condition": {"test": "abs(round(datum.value * 10)) % 2 === 0", "value": 1}, "value": 0}}}
      },
      "layer": [
        {
          "data": {"name": "vthB"},
          "transform": [{"filter": "datum.barrier === '22'"}],
          "mark": {"type": "point", "shape": "circle", "filled": false, "size": 230, "color": "#2b2b2b", "strokeWidth": 1.4},
          "encoding": {"x": {"field": "pos"}, "y": {"field": "vth"}}
        },
        {
          "data": {"name": "vthB"},
          "transform": [{"filter": "datum.barrier === '12'"}],
          "mark": {"type": "point", "shape": "triangle-up", "filled": false, "size": 280, "color": "#2e3192", "strokeWidth": 1.6},
          "encoding": {"x": {"field": "pos"}, "y": {"field": "vth"}}
        },
        {
          "data": {"name": "vthB"},
          "transform": [{"filter": "datum.barrier === '8'"}],
          "mark": {"type": "point", "shape": "diamond", "filled": false, "size": 480, "color": "#ec2a1c", "strokeWidth": 2.6},
          "encoding": {"x": {"field": "pos"}, "y": {"field": "vth"}}
        },
        {
          "data": {"name": "meanB"},
          "mark": {"type": "point", "shape": "square", "filled": false, "size": 860, "color": "#3f8f5c", "strokeWidth": 1.6},
          "encoding": {"x": {"field": "pos"}, "y": {"field": "vth"}}
        },
        {
          "data": {"name": "textB"},
          "transform": [{"filter": "datum.role === 'main'"}],
          "mark": {"type": "text", "align": "left", "baseline": "middle", "fontSize": 27},
          "encoding": {"x": {"field": "x"}, "y": {"field": "y"}, "text": {"field": "text", "type": "nominal"}}
        },
        {
          "data": {"name": "textB"},
          "transform": [{"filter": "datum.role === 'sub'"}],
          "mark": {"type": "text", "align": "left", "baseline": "middle", "fontSize": 19},
          "encoding": {"x": {"field": "x"}, "y": {"field": "y"}, "text": {"field": "text", "type": "nominal"}}
        },
        {
          "data": {"name": "textB"},
          "transform": [{"filter": "datum.role === 'title'"}],
          "mark": {"type": "text", "align": "left", "baseline": "middle", "fontSize": 36},
          "encoding": {"x": {"field": "x"}, "y": {"field": "y"}, "text": {"field": "text", "type": "nominal"}}
        },
        {
          "data": {"name": "textB"},
          "transform": [{"filter": "datum.role === 'titleSub'"}],
          "mark": {"type": "text", "align": "left", "baseline": "middle", "fontSize": 22},
          "encoding": {"x": {"field": "x"}, "y": {"field": "y"}, "text": {"field": "text", "type": "nominal"}}
        },
        {
          "data": {"name": "textB"},
          "transform": [{"filter": "datum.role === 'vtitle'"}],
          "mark": {"type": "text", "align": "left", "baseline": "middle", "fontSize": 36, "angle": 270},
          "encoding": {"x": {"field": "x"}, "y": {"field": "y"}, "text": {"field": "text", "type": "nominal"}}
        },
        {
          "data": {"name": "textB"},
          "transform": [{"filter": "datum.role === 'vtitleSub'"}],
          "mark": {"type": "text", "align": "left", "baseline": "middle", "fontSize": 22, "angle": 270},
          "encoding": {"x": {"field": "x"}, "y": {"field": "y"}, "text": {"field": "text", "type": "nominal"}}
        }
      ]
    },
    {
      "width": 559,
      "height": 403,
      "encoding": {
        "x": {"type": "quantitative", "title": null, "scale": {"domain": [-1.5, 2], "nice": false, "zero": false},
          "axis": {"values": [-1.5, -1.25, -1, -0.75, -0.5, -0.25, 0, 0.25, 0.5, 0.75, 1, 1.25, 1.5, 1.75, 2], "labelExpr": "datum.value % 0.5 === 0 ? replace(format(datum.value, '.1f'), '\u2212', '-') : ''", "tickSize": {"condition": {"test": "datum.value % 0.5 === 0", "value": 9}, "value": 5}, "labelPadding": 8}},
        "y": {"type": "quantitative", "title": null, "scale": {"type": "log", "domain": [5.07e-9, 0.24], "nice": false},
          "axis": {"values": [6e-9, 7e-9, 8e-9, 9e-9, 1e-8, 2e-8, 3e-8, 4e-8, 5e-8, 6e-8, 7e-8, 8e-8, 9e-8, 1e-7, 2e-7, 3e-7, 4e-7, 5e-7, 6e-7, 7e-7, 8e-7, 9e-7, 1e-6, 2e-6, 3e-6, 4e-6, 5e-6, 6e-6, 7e-6, 8e-6, 9e-6, 1e-5, 2e-5, 3e-5, 4e-5, 5e-5, 6e-5, 7e-5, 8e-5, 9e-5, 1e-4, 2e-4, 3e-4, 4e-4, 5e-4, 6e-4, 7e-4, 8e-4, 9e-4, 1e-3, 2e-3, 3e-3, 4e-3, 5e-3, 6e-3, 7e-3, 8e-3, 9e-3, 1e-2, 2e-2, 3e-2, 4e-2, 5e-2, 6e-2, 7e-2, 8e-2, 9e-2, 0.1, 0.2],
            "labelExpr": "datum.value === 0.1 ? '10⁻¹' : datum.value === 0.001 ? '10⁻³' : datum.value === 0.00001 ? '10⁻⁵' : datum.value === 1e-7 ? '10⁻⁷' : ''",
            "tickSize": {"condition": {"test": "abs(log(datum.value) / LN10 - round(log(datum.value) / LN10)) < 0.001", "value": 9}, "value": 4}, "labelPadding": 9}}
      },
      "layer": [
        {
          "data": {"name": "curvesC"},
          "mark": {"type": "line", "interpolate": "monotone", "strokeWidth": 1.8},
          "encoding": {"x": {"field": "vgs"}, "y": {"field": "id"}, "detail": {"field": "segment", "type": "nominal"},
            "color": {"field": "series", "type": "nominal", "legend": null, "scale": {"domain": ["22 nm", "12 nm", "8 nm", "info"], "range": ["#1a1a1a", "#2e3192", "#ee3524", "#333333"]}}}
        },
        {
          "data": {"name": "textC"},
          "transform": [{"filter": "datum.role === 'main'"}],
          "mark": {"type": "text", "align": "left", "baseline": "middle", "fontSize": 27},
          "encoding": {"x": {"field": "x"}, "y": {"field": "y"}, "text": {"field": "text", "type": "nominal"},
            "color": {"field": "series", "type": "nominal", "legend": null, "scale": {"domain": ["22 nm", "12 nm", "8 nm", "info"], "range": ["#1a1a1a", "#2e3192", "#ee3524", "#333333"]}}}
        },
        {
          "data": {"name": "textC"},
          "transform": [{"filter": "datum.role === 'sub'"}],
          "mark": {"type": "text", "align": "left", "baseline": "middle", "fontSize": 19, "color": "#333333"},
          "encoding": {"x": {"field": "x"}, "y": {"field": "y"}, "text": {"field": "text", "type": "nominal"}}
        },
        {
          "data": {"name": "textC"},
          "transform": [{"filter": "datum.role === 'title'"}],
          "mark": {"type": "text", "align": "left", "baseline": "middle", "fontSize": 36, "color": "#333333"},
          "encoding": {"x": {"field": "x"}, "y": {"field": "y"}, "text": {"field": "text", "type": "nominal"}}
        },
        {
          "data": {"name": "textC"},
          "transform": [{"filter": "datum.role === 'titleSub'"}],
          "mark": {"type": "text", "align": "left", "baseline": "middle", "fontSize": 22, "color": "#333333"},
          "encoding": {"x": {"field": "x"}, "y": {"field": "y"}, "text": {"field": "text", "type": "nominal"}}
        },
        {
          "data": {"name": "textC"},
          "transform": [{"filter": "datum.role === 'vtitle'"}],
          "mark": {"type": "text", "align": "left", "baseline": "middle", "fontSize": 36, "angle": 270, "color": "#333333"},
          "encoding": {"x": {"field": "x"}, "y": {"field": "y"}, "text": {"field": "text", "type": "nominal"}}
        },
        {
          "data": {"name": "textC"},
          "transform": [{"filter": "datum.role === 'vtitleSub'"}],
          "mark": {"type": "text", "align": "left", "baseline": "middle", "fontSize": 22, "angle": 270, "color": "#333333"},
          "encoding": {"x": {"field": "x"}, "y": {"field": "y"}, "text": {"field": "text", "type": "nominal"}}
        }
      ]
    }
  ]
}
